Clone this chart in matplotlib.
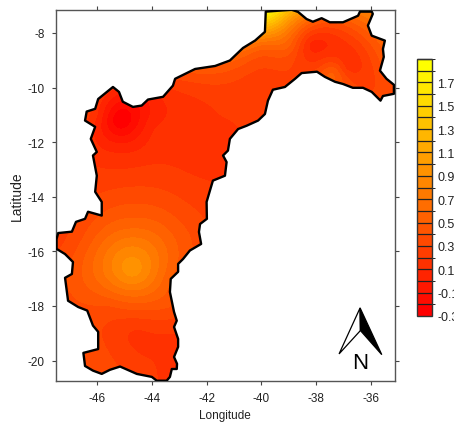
import numpy as np
import matplotlib
matplotlib.use("Agg")
import matplotlib.pyplot as plt
from matplotlib.colors import LinearSegmentedColormap, BoundaryNorm
from matplotlib.patches import Polygon

plt.rcParams['font.family'] = ['Liberation Sans', 'DejaVu Sans']

boundary_lon = [-39.84,-38.89,-38.66,-38.35,-38.12,-37.80,-37.50,-37.02,-36.47,-36.40,-35.97,-35.93,-36.11,-35.97,-35.49,-35.56,-35.53,-35.67,-35.43,-35.16,-35.16,-35.56,-35.65,-35.97,-36.29,-36.66,-37.02,-37.31,-37.68,-37.97,-38.53,-38.77,-39.14,-39.58,-39.76,-39.87,-40.12,-40.54,-40.85,-41.15,-41.22,-41.40,-41.27,-41.33,-41.77,-41.88,-42.00,-41.99,-42.24,-42.28,-42.20,-42.61,-42.86,-43.04,-43.04,-43.31,-43.34,-43.19,-43.09,-43.19,-43.04,-43.04,-43.19,-43.08,-43.09,-43.27,-43.34,-43.46,-43.82,-44.00,-44.55,-45.16,-45.53,-45.83,-46.15,-46.44,-46.50,-45.96,-45.96,-46.15,-46.36,-46.69,-47.06,-47.17,-46.92,-46.88,-47.17,-47.48,-47.48,-47.42,-46.92,-46.77,-46.44,-46.33,-45.83,-45.83,-46.07,-46.01,-46.15,-46.01,-46.23,-46.07,-46.44,-46.38,-46.07,-45.96,-45.42,-45.20,-45.06,-44.69,-44.37,-44.14,-43.59,-43.23,-43.15,-42.42,-41.69,-41.15,-40.67,-40.23,-39.87]
boundary_lat = [-7.22,-7.15,-7.23,-7.49,-7.59,-7.46,-7.61,-7.61,-7.37,-7.22,-7.22,-7.30,-7.73,-8.10,-8.28,-8.59,-8.88,-9.38,-9.68,-9.90,-10.23,-10.31,-10.48,-10.16,-10.01,-10.01,-9.87,-9.79,-9.61,-9.42,-9.47,-9.68,-9.98,-10.08,-10.48,-10.97,-11.21,-11.40,-11.52,-11.88,-12.31,-12.49,-12.73,-13.23,-13.41,-13.78,-14.19,-14.81,-15.00,-15.29,-15.73,-15.97,-16.28,-16.46,-16.75,-17.01,-17.49,-18.22,-18.54,-18.77,-19.21,-19.50,-19.87,-20.12,-20.31,-20.31,-20.60,-20.74,-20.74,-20.60,-20.49,-20.22,-20.34,-20.49,-20.37,-20.20,-19.72,-19.58,-18.95,-18.72,-18.17,-18.04,-17.81,-16.97,-16.83,-16.39,-16.10,-15.91,-15.55,-15.33,-15.28,-14.92,-14.81,-14.55,-14.69,-14.19,-13.82,-13.23,-12.49,-12.36,-11.88,-11.44,-11.21,-10.88,-10.78,-10.42,-9.98,-10.16,-10.52,-10.71,-10.66,-10.44,-10.34,-9.93,-9.68,-9.32,-9.21,-9.01,-8.55,-8.28,-7.96]

station_lon = [-39.8,-39.0,-38.2,-37.9,-37.4,-36.9,-36.0,-35.5,-35.3,-39.0,-40.0,-41.0,-42.5,-41.5,-45.2,-44.0,-42.5,-46.0,-45.0,-43.0,-45.0,-43.0,-44.7,-44.7,-46.5,-47.2,-46.5,-42.6,-43.3,-45.5,-44.6,-44.6,-44.0,-45.0,-46.2,-43.3,-43.3,-44.5,-45.3,-45.2]
station_lat = [-7.2,-7.5,-8.4,-9.3,-9.43,-9.3,-7.5,-9.0,-10.0,-8.5,-8.5,-9.5,-10.0,-11.0,-11.2,-11.5,-12.0,-11.0,-13.0,-13.0,-14.0,-14.5,-16.7,-15.0,-15.5,-15.7,-17.0,-15.5,-17.0,-18.0,-18.0,-19.0,-20.0,-20.2,-19.8,-19.0,-18.0,-20.0,-19.2,-12.2]
station_val = [1.8,1.0,0.08,0.3,0.5,0.18,0.7,0.45,0.35,0.5,0.55,0.35,0.25,0.2,-0.28,0.08,0.12,0.1,0.2,0.2,0.35,0.35,0.95,0.55,0.4,0.3,0.5,0.4,0.5,0.4,0.45,0.18,0.2,0.28,0.35,0.2,0.4,0.22,0.25,0.05]

levels = np.round(np.arange(-0.3, 1.95, 0.1), 1)
tick_values = [-0.3,-0.1,0.1,0.3,0.5,0.7,0.9,1.1,1.3,1.5,1.7]
x_ticks = [-46,-44,-42,-40,-38,-36]
y_ticks = [-8,-10,-12,-14,-16,-18,-20]

cmap = LinearSegmentedColormap.from_list('ry', ['#ff0000', '#ffff00'], N=len(levels)-1)
norm = BoundaryNorm(levels, cmap.N)

fig = plt.figure(figsize=(4.54, 4.27), dpi=100)
W, H = 454, 427
ax = fig.add_axes([56/W, (H-382)/H, 339/W, 371/H])
ax.set_xlim(-47.5, -35.12)
ax.set_ylim(-20.75, -7.16)

# thin-plate surface through the sampled values
sx, sy, sv = map(np.array, (station_lon, station_lat, station_val))
def tps(r2):
    with np.errstate(divide='ignore', invalid='ignore'):
        out = 0.5*r2*np.log(r2)
    return np.nan_to_num(out)
n = len(sx)
K = tps((sx[:,None]-sx[None,:])**2 + (sy[:,None]-sy[None,:])**2) + np.eye(n)*0.02
P = np.column_stack([np.ones(n), sx, sy])
A = np.block([[K, P],[P.T, np.zeros((3,3))]])
coef = np.linalg.solve(A, np.concatenate([sv, np.zeros(3)]))
gx, gy = np.meshgrid(np.linspace(-47.6,-35,300), np.linspace(-20.9,-7.0,320))
Z = tps((gx[...,None]-sx)**2 + (gy[...,None]-sy)**2) @ coef[:n] + coef[n] + coef[n+1]*gx + coef[n+2]*gy
Z = np.clip(Z, -0.299, 1.899)

cf = ax.contourf(gx, gy, Z, levels=levels, cmap=cmap, norm=norm, antialiased=False)
verts = list(zip(boundary_lon, boundary_lat))
outline = Polygon(verts, closed=True, fill=False, edgecolor='black', lw=1.7, zorder=3, joinstyle='round')
ax.add_patch(outline)
cf.set_clip_path(outline)

ax.set_xticks(x_ticks)
ax.set_yticks(y_ticks)
ax.tick_params(top=True, right=True, direction='out', length=3, width=0.8, color='#444444',
               labelsize=8.5, labelcolor='#222222', pad=5)
for s in ax.spines.values():
    s.set_linewidth(1.0)
    s.set_color('#555555')
ax.xaxis.set_major_formatter(lambda v, p: f'{v:.0f}')
ax.yaxis.set_major_formatter(lambda v, p: f'{v:.0f}')
fig.text(225/W, 1-416/H, 'Longitude', ha='center', va='center', fontsize=8.5, color='#222222')
fig.text(17/W, 1-196/H, 'Latitude', rotation=90, ha='center', va='center', fontsize=10, color='#222222')

# north arrow
tip, left, notch, right = (0.897,0.197), (0.835,0.073), (0.898,0.136), (0.961,0.071)
ax.add_patch(Polygon([tip,left,notch], closed=True, facecolor='white', edgecolor='black', lw=0.9, transform=ax.transAxes, zorder=4))
ax.add_patch(Polygon([tip,notch,right], closed=True, facecolor='black', edgecolor='black', lw=0.9, transform=ax.transAxes, zorder=4))
ax.text(0.897, 0.05, 'N', transform=ax.transAxes, ha='center', va='center', fontsize=16, color='black', zorder=4)

# colour key
cax = fig.add_axes([417/W, (H-317)/H, 15/W, 257/H])
cb = fig.colorbar(cf, cax=cax, boundaries=levels, ticks=tick_values, spacing='uniform', drawedges=True)
cb.dividers.set_color('#222222')
cb.dividers.set_linewidth(0.9)
cb.outline.set_edgecolor('#333333')
cb.outline.set_linewidth(1.0)
cb.ax.tick_params(length=0, labelsize=9, labelcolor='#222222', pad=4)
cb.ax.set_yticklabels([f'{v:.1f}' for v in tick_values])

fig.savefig('out.png', dpi=100)
